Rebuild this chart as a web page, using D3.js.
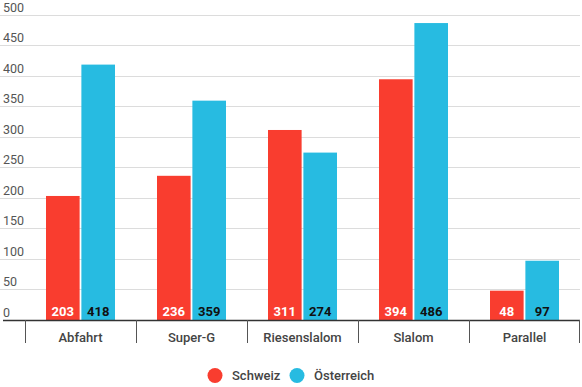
<!DOCTYPE html>
<html>
<head>
<meta charset="utf-8">
<script src="https://cdn.jsdelivr.net/npm/d3@7"></script>
<style>
  body { margin: 0; background: #fff; font-family: Roboto, sans-serif; }
</style>
</head>
<body>
<div id="container"></div>
<script>
/* DATA */
const categories = ["Abfahrt", "Super-G", "Riesenslalom", "Slalom", "Parallel"];
const schweiz = [203, 236, 311, 394, 48];
const oesterreich = [418, 359, 274, 486, 97];
const seriesNames = ["Schweiz", "Österreich"];
const yTicks = [0, 50, 100, 150, 200, 250, 300, 350, 400, 450, 500];

/* CONSTANTS */
const W = 582, H = 387;
const colors = ["#f93d2f", "#27bbe1"];

const svg = d3.select("#container").append("svg")
    .attr("width", W)
    .attr("height", H);

const y = d3.scaleLinear().domain([0, 500]).range([320, 14.5]);
const x = d3.scaleBand().domain(categories).range([25, 580]);

// gridlines + y labels
svg.append("g").selectAll("line")
  .data(yTicks.filter(d => d > 0))
  .join("line")
    .attr("x1", 0).attr("x2", 580)
    .attr("y1", d => Math.round(y(d)) + 0.5)
    .attr("y2", d => Math.round(y(d)) + 0.5)
    .attr("stroke", "#dcdcdc")
    .attr("stroke-width", 1);

svg.append("g").selectAll("text")
  .data(yTicks)
  .join("text")
    .attr("x", 3)
    .attr("y", d => y(d) - 3)
    .style("font-size", "12.5px")
    .style("fill", "#555")
    .text(d => d);

// bars
const table = categories.map((c, i) => ({cat: c, vals: [schweiz[i], oesterreich[i]]}));
const inner = d3.scaleBand().domain([0, 1]).range([21, 90]).paddingInner(0.05);

const groups = svg.append("g").selectAll("g")
  .data(table)
  .join("g")
    .attr("transform", d => "translate(" + x(d.cat) + ",0)");

groups.selectAll("rect")
  .data(d => d.vals.map((v, j) => ({v: v, j: j})))
  .join("rect")
    .attr("x", d => inner(d.j))
    .attr("y", d => y(d.v))
    .attr("width", inner.bandwidth())
    .attr("height", d => y(0) - y(d.v))
    .attr("fill", d => colors[d.j]);

groups.selectAll("text")
  .data(d => d.vals.map((v, j) => ({v: v, j: j})))
  .join("text")
    .attr("x", d => inner(d.j) + inner.bandwidth() / 2)
    .attr("y", 316)
    .attr("text-anchor", "middle")
    .style("font-size", "13px")
    .style("font-weight", "bold")
    .style("fill", d => d.j === 0 ? "#fff" : "#111")
    .text(d => d.v);

// x axis
svg.append("line")
  .attr("x1", 3).attr("x2", 580)
  .attr("y1", 320.5).attr("y2", 320.5)
  .attr("stroke", "#333").attr("stroke-width", 1.5);

const xAxis = svg.append("g")
  .attr("transform", "translate(0,320)")
  .call(d3.axisBottom(x).tickSize(0).tickPadding(13));
xAxis.select(".domain").remove();
xAxis.selectAll("text")
  .style("font-family", "Roboto, sans-serif")
  .style("font-size", "13px")
  .style("font-weight", "500")
  .style("fill", "#444");

svg.append("g").selectAll("line")
  .data(categories.concat(["end"]))
  .join("line")
    .attr("x1", (d, i) => i < categories.length ? x(d) + 0.5 : x.range()[1] - 0.5)
    .attr("x2", (d, i) => i < categories.length ? x(d) + 0.5 : x.range()[1] - 0.5)
    .attr("y1", 320).attr("y2", 343)
    .attr("stroke", "#555").attr("stroke-width", 1);

// legend
const legend = svg.append("g");
const legendX = [215, 297];
seriesNames.forEach((name, i) => {
  legend.append("circle")
    .attr("cx", legendX[i]).attr("cy", 375.5)
    .attr("r", 7.5)
    .attr("fill", colors[i]);
  legend.append("text")
    .attr("x", legendX[i] + 17)
    .attr("y", 380)
    .style("font-size", "13px")
    .style("font-weight", "500")
    .style("fill", "#444")
    .text(name);
});
</script>
</body>
</html>
